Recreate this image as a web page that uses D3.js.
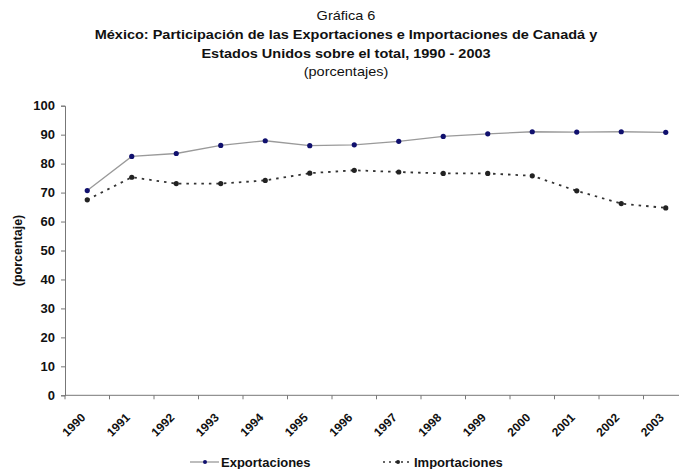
<!DOCTYPE html>
<html>
<head>
<meta charset="utf-8">
<script src="https://cdn.jsdelivr.net/npm/d3@7"></script>
<style>
  html, body { margin: 0; padding: 0; background: #fff; }
  svg { display: block; font-family: "Liberation Sans", Arial, sans-serif; }
</style>
</head>
<body>
<svg id="chart" width="679" height="469"></svg>
<script>
// Participación de Canadá y EE.UU. en el comercio exterior de México (%)
const years = ["1990","1991","1992","1993","1994","1995","1996","1997","1998","1999","2000","2001","2002","2003"];
const exportaciones = [70.7, 82.5, 83.5, 86.3, 87.9, 86.2, 86.5, 87.7, 89.4, 90.3, 91.0, 90.9, 91.0, 90.8];
const importaciones = [67.5, 75.3, 73.1, 73.1, 74.2, 76.7, 77.7, 77.1, 76.6, 76.6, 75.8, 70.6, 66.2, 64.7];
const yTicks = [0, 10, 20, 30, 40, 50, 60, 70, 80, 90, 100];

const svg = d3.select("#chart");

const plotLeft = 65, plotBottom = 395.3, plotTop = 105.7;
const step = 44.5;

const x = d3.scaleBand().domain(years).range([plotLeft, plotLeft + step * years.length]);
const y = d3.scaleLinear().domain([0, 100]).range([plotBottom, plotTop]);
const cx = d => x(d) + x.bandwidth() / 2;

// Titles (slightly widened type)
const titles = [
  { t: "Gráfica 6", y: 20, w: "normal" },
  { t: "México: Participación de las Exportaciones e Importaciones de Canadá y", y: 39, w: "bold" },
  { t: "Estados Unidos sobre el total, 1990 - 2003", y: 58, w: "bold" },
  { t: "(porcentajes)", y: 76, w: "normal" }
];
const titleX = 346, stretch = 1.09;
svg.selectAll("text.title").data(titles).enter().append("text")
  .attr("class", "title")
  .attr("transform", d => `translate(${titleX},${d.y}) scale(${stretch},1)`)
  .attr("text-anchor", "middle")
  .attr("font-size", 13.3)
  .attr("font-weight", d => d.w)
  .attr("fill", "#111")
  .text(d => d.t);

// Y axis
const yAxis = svg.append("g")
  .attr("transform", `translate(${plotLeft},0)`)
  .call(d3.axisLeft(y).tickValues(yTicks).tickSize(4).tickPadding(6));
yAxis.select(".domain").attr("stroke", "#777");
yAxis.selectAll(".tick line").attr("stroke", "#777");
yAxis.selectAll(".tick text")
  .attr("font-size", 13).attr("font-weight", "bold").attr("fill", "#111")
  .attr("font-family", "Liberation Sans, Arial, sans-serif");

// X axis: ticks on category boundaries
const xAxisG = svg.append("g").attr("transform", `translate(0,${plotBottom})`);
xAxisG.append("line")
  .attr("x1", plotLeft).attr("x2", plotLeft + step * years.length)
  .attr("y1", 0).attr("y2", 0)
  .attr("stroke", "#777");
xAxisG.selectAll("line.tk").data(years).enter().append("line")
  .attr("class", "tk")
  .attr("x1", d => x(d)).attr("x2", d => x(d))
  .attr("y1", 0).attr("y2", 4)
  .attr("stroke", "#777");
xAxisG.selectAll("text.yr").data(years).enter().append("text")
  .attr("class", "yr")
  .attr("transform", d => `translate(${cx(d) - 1},${23}) rotate(-45)`)
  .attr("text-anchor", "end")
  .attr("font-size", 12)
  .attr("font-weight", "bold")
  .attr("fill", "#111")
  .text(d => d);

// Y axis title
svg.append("text")
  .attr("transform", `translate(22,${y(50)}) rotate(-90)`)
  .attr("text-anchor", "middle")
  .attr("font-size", 12.5)
  .attr("font-weight", "bold")
  .attr("fill", "#111")
  .text("(porcentaje)");

const line = d3.line().x((d, i) => cx(years[i])).y(d => y(d));

// Importaciones: dotted line with dark markers
svg.append("path")
  .datum(importaciones)
  .attr("d", line)
  .attr("fill", "none")
  .attr("stroke", "#333")
  .attr("stroke-width", 1.8)
  .attr("stroke-dasharray", "2.5,5");
svg.selectAll("circle.imp").data(importaciones).enter().append("circle")
  .attr("class", "imp")
  .attr("cx", (d, i) => cx(years[i])).attr("cy", d => y(d))
  .attr("r", 2.6).attr("fill", "#222");

// Exportaciones: solid gray line with navy markers
svg.append("path")
  .datum(exportaciones)
  .attr("d", line)
  .attr("fill", "none")
  .attr("stroke", "#9a9a9a")
  .attr("stroke-width", 1.3);
svg.selectAll("circle.exp").data(exportaciones).enter().append("circle")
  .attr("class", "exp")
  .attr("cx", (d, i) => cx(years[i])).attr("cy", d => y(d))
  .attr("r", 2.6).attr("fill", "#10106e");

// Legend
const lg = svg.append("g").attr("transform", "translate(0,462)");
lg.append("line").attr("x1", 190).attr("x2", 219).attr("y1", 0).attr("y2", 0)
  .attr("stroke", "#9a9a9a").attr("stroke-width", 1.3);
lg.append("circle").attr("cx", 205).attr("cy", 0).attr("r", 2).attr("fill", "#10106e");
lg.append("text").attr("x", 221).attr("y", 4.5)
  .attr("font-size", 13).attr("font-weight", "bold").attr("fill", "#111")
  .text("Exportaciones");
lg.append("line").attr("x1", 383).attr("x2", 413).attr("y1", 0).attr("y2", 0)
  .attr("stroke", "#333").attr("stroke-width", 1.4).attr("stroke-dasharray", "2,4");
lg.append("circle").attr("cx", 398).attr("cy", 0).attr("r", 2).attr("fill", "#222");
lg.append("text").attr("x", 414).attr("y", 4.5)
  .attr("font-size", 13).attr("font-weight", "bold").attr("fill", "#111")
  .text("Importaciones");
</script>
</body>
</html>
